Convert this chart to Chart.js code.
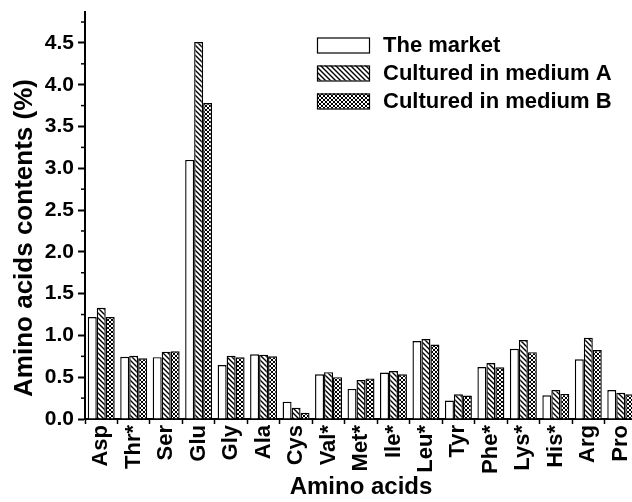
<!DOCTYPE html>
<html>
<head>
<meta charset="utf-8">
<script src="https://cdn.jsdelivr.net/npm/chart.js@4"></script>
<style>
  html, body { margin: 0; padding: 0; background: #fff; overflow: hidden; }
  #wrap { width: 637px; height: 502px; }
</style>
</head>
<body>
<div id="wrap"><canvas id="bars"></canvas></div>
<script>
const categories = ["Asp", "Thr*", "Ser", "Glu", "Gly", "Ala", "Cys", "Val*", "Met*", "Ile*", "Leu*", "Tyr", "Phe*", "Lys*", "His*", "Arg", "Pro"];
const market  = [1.22, 0.745, 0.74, 3.10, 0.646, 0.774, 0.207, 0.535, 0.36, 0.555, 0.933, 0.22, 0.622, 0.84, 0.283, 0.714, 0.347];
const mediumA = [1.33, 0.757, 0.805, 4.51, 0.757, 0.77, 0.135, 0.56, 0.466, 0.574, 0.957, 0.295, 0.67, 0.945, 0.347, 0.973, 0.315];
const mediumB = [1.22, 0.726, 0.81, 3.78, 0.738, 0.75, 0.075, 0.50, 0.486, 0.535, 0.89, 0.28, 0.618, 0.80, 0.30, 0.825, 0.295];
const nombres = ["The market", "Cultured in medium A", "Cultured in medium B"];

const fuente = "'Liberation Sans', Arial, sans-serif";

// relleno con rayas: "\" o cruzado
function patron(cruzado) {
  const n = cruzado ? 4 : 5;
  const c = document.createElement("canvas");
  c.width = n; c.height = n;
  const g = c.getContext("2d");
  g.fillStyle = "#fff";
  g.fillRect(0, 0, n, n);
  g.strokeStyle = "#000";
  g.lineWidth = cruzado ? 1 : 1.4;
  g.beginPath();
  g.moveTo(-1, -1); g.lineTo(n + 1, n + 1);
  g.moveTo(-1, n - 1); g.lineTo(1, n + 1);
  g.moveTo(n - 1, -1); g.lineTo(n + 1, 1);
  if (cruzado) {
    g.moveTo(-1, n + 1); g.lineTo(n + 1, -1);
    g.moveTo(-1, 1); g.lineTo(1, -1);
    g.moveTo(n - 1, n + 1); g.lineTo(n + 1, n - 1);
  }
  g.stroke();
  return g.createPattern(c, "repeat");
}

const rellenos = ["#ffffff", patron(false), patron(true)];

const esMayor = (v) => Math.abs(Math.round(v * 100) % 50) === 0;

// ticks menores, titulo del eje y, leyenda
const extras = {
  id: "extras",
  afterDraw(chart) {
    const ctx = chart.ctx;
    const y = chart.scales.y;
    ctx.save();
    ctx.strokeStyle = "#000";
    ctx.lineWidth = 1.5;
    y.ticks.forEach((t) => {
      if (esMayor(t.value)) return;
      const py = y.getPixelForValue(t.value);
      ctx.beginPath();
      ctx.moveTo(y.right - 4, py);
      ctx.lineTo(y.right, py);
      ctx.stroke();
    });

    ctx.save();
    ctx.translate(25, 238);
    ctx.rotate(-Math.PI / 2);
    ctx.font = "bold 26px " + fuente;
    ctx.textAlign = "center";
    ctx.textBaseline = "middle";
    ctx.fillStyle = "#000";
    ctx.fillText("Amino acids contents (%)", 0, 0);
    ctx.restore();

    const x0 = 317, w = 52, h = 15;
    const filas = [45, 73, 101];
    ctx.font = "bold 22px " + fuente;
    ctx.textBaseline = "middle";
    chart.data.datasets.forEach((ds, i) => {
      const cy = filas[i];
      ctx.fillStyle = ds.backgroundColor;
      ctx.fillRect(x0, cy - h / 2, w, h);
      ctx.lineWidth = 1.2;
      ctx.strokeStyle = "#000";
      ctx.strokeRect(x0 + 0.5, cy - h / 2 + 0.5, w, h);
      ctx.fillStyle = "#000";
      ctx.fillText(ds.label, 383, cy + 1);
    });
    ctx.restore();
  },
};

const grafico = new Chart(document.getElementById("bars"), {
  type: "bar",
  data: {
    labels: categories,
    datasets: [market, mediumA, mediumB].map((d, i) => ({
      label: nombres[i],
      data: d,
      backgroundColor: rellenos[i],
      borderColor: "#000",
      borderWidth: 1.4,
      categoryPercentage: 0.83,
      barPercentage: 1.0,
    })),
  },
  options: {
    responsive: true,
    maintainAspectRatio: false,
    animation: false,
    layout: { padding: { top: 12, right: 0, left: 0, bottom: 0 } },
    plugins: {
      legend: { display: false },
      tooltip: { enabled: false },
    },
    scales: {
      x: {
        type: "category",
        offset: true,
        afterFit: (s) => { s.height = 83; s.paddingLeft = 0; s.paddingRight = 0; },
        border: { color: "#000", width: 2 },
        grid: { offset: true, drawOnChartArea: false, color: "#000", tickLength: 5, tickWidth: 1.5 },
        ticks: {
          color: "#000",
          font: { family: fuente, size: 22, weight: "bold" },
          minRotation: 90,
          maxRotation: 90,
          autoSkip: false,
          padding: 1,
        },
        title: {
          display: true,
          text: "Amino acids",
          color: "#000",
          font: { family: fuente, size: 24, weight: "bold" },
          padding: { top: 0, bottom: 0 },
        },
      },
      y: {
        min: 0,
        max: 4.87,
        afterFit: (s) => { s.width = 85; s.paddingTop = 0; s.paddingBottom = 0; },
        border: { color: "#000", width: 2 },
        grid: {
          drawOnChartArea: false,
          tickLength: 7,
          tickWidth: 2,
          tickColor: (c) => (c.tick && esMayor(c.tick.value) ? "#000" : "rgba(0,0,0,0)"),
        },
        ticks: {
          stepSize: 0.25,
          includeBounds: false,
          autoSkip: false,
          color: "#000",
          padding: 4,
          font: { family: fuente, size: 21, weight: "bold" },
          callback: (v) => (esMayor(v) ? v.toFixed(1) : ""),
        },
        title: { display: false },
      },
    },
  },
  plugins: [extras],
});
</script>
</body>
</html>
